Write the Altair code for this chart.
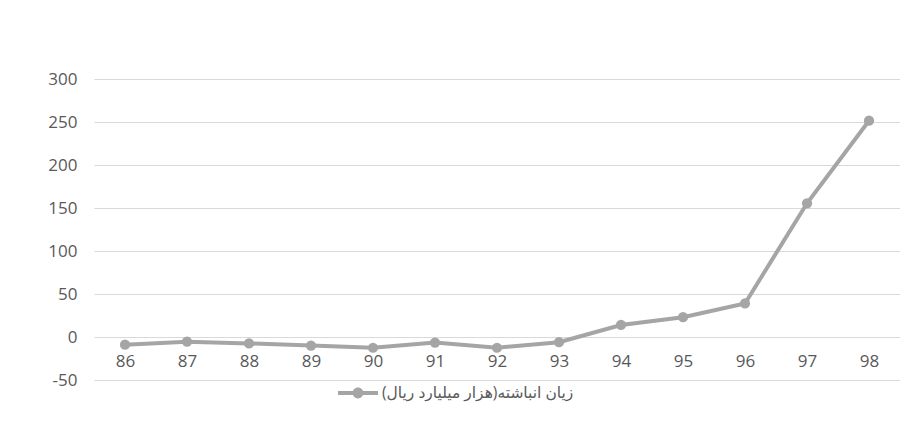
import altair as alt
import pandas as pd

years = ["86", "87", "88", "89", "90", "91", "92", "93", "94", "95", "96", "97", "98"]
loss = [-9, -5.5, -7.5, -10, -12.5, -6.5, -12.5, -6, 14, 23, 39, 155.5, 251.5]
series_name = "زیان انباشته(هزار میلیارد ریال)"
y_ticks = [-50, 0, 50, 100, 150, 200, 250, 300]

df = pd.DataFrame({"year": years, "value": loss, "series": series_name})

GRAY = "#A5A5A5"
TEXT = "#595959"
FONT = "Open Sans, DejaVu Sans, sans-serif"

x = alt.X("year:O", sort=years,
          scale=alt.Scale(type="point", padding=0.5),
          axis=alt.Axis(title=None, labelAngle=0, domain=False, ticks=False,
                        grid=False, offset=-43, labelPadding=16,
                        labelFontSize=17, labelColor=TEXT, labelFont=FONT))
y = alt.Y("value:Q",
          scale=alt.Scale(domain=[-50, 300], nice=False, zero=False),
          axis=alt.Axis(title=None, values=y_ticks, domain=False, ticks=False,
                        labelExpr="'' + datum.value",
                        labelPadding=17, labelFontSize=17, labelColor=TEXT,
                        labelFont=FONT, gridColor="#D9D9D9", gridWidth=1))

line = alt.Chart(df).mark_line(color=GRAY, strokeWidth=4).encode(x=x, y=y)

legend_path = ("M-1,-0.1L1,-0.1L1,0.1L-1,0.1Z "
               "M0.27,0A0.27,0.27 0 1,1 -0.27,0A0.27,0.27 0 1,1 0.27,0Z")

points = alt.Chart(df).mark_point(filled=True, size=105, opacity=1).encode(
    x=x, y=y,
    color=alt.Color("series:N", scale=alt.Scale(range=[GRAY]),
                    legend=alt.Legend(title=None, orient="none",
                                      legendX=244, legendY=294,
                                      symbolType=legend_path, symbolSize=1600,
                                      symbolStrokeWidth=0, symbolOffset=0,
                                      labelFontSize=15.5, labelColor=TEXT,
                                      labelFont=FONT, labelLimit=400))
)

chart = (line + points).properties(
    width=806, height=301,
    autosize=alt.AutoSizeParams(type="none"),
    padding={"left": 86, "top": 71, "right": 0, "bottom": 36},
    background="white",
).configure_view(stroke=None)

chart.save("out.html", embed_options={"renderer": "svg", "actions": False})
